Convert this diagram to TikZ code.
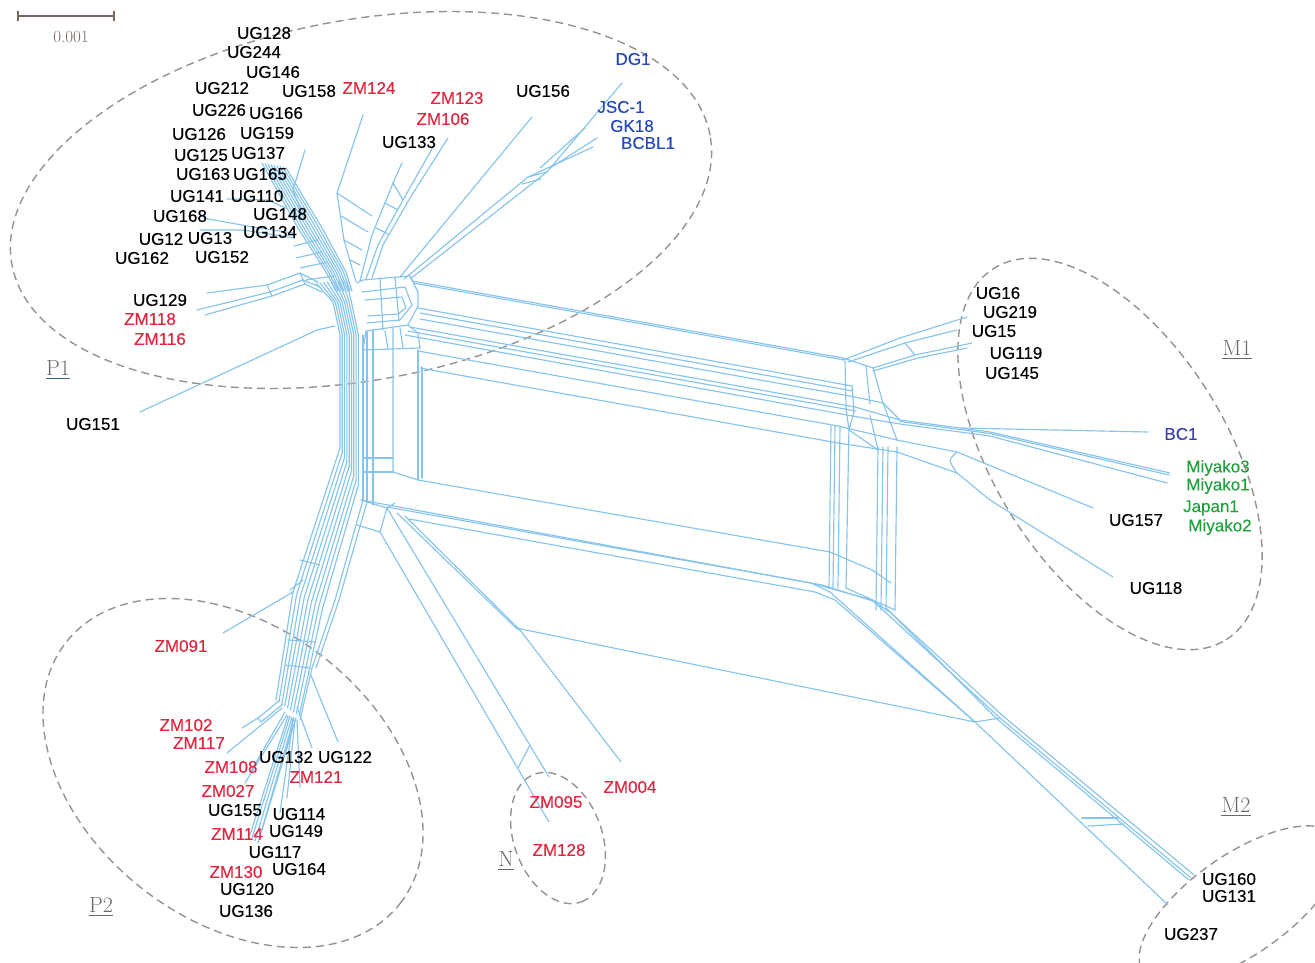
\documentclass[tikz,border=0pt]{standalone}
\usepackage{fontspec}
\newfontfamily\labfont[FakeBold=0.3]{Liberation Sans}
\definecolor{netc}{RGB}{135,196,236}
\definecolor{redc}{RGB}{222,38,62}
\definecolor{bluec}{RGB}{36,72,186}
\definecolor{bluec2}{RGB}{60,62,170}
\definecolor{greenc}{RGB}{34,160,62}
\definecolor{dashc}{RGB}{150,146,144}
\definecolor{scalec}{RGB}{120,106,98}
\definecolor{clc}{RGB}{105,105,105}
\definecolor{ulc}{RGB}{60,100,125}
\tikzset{
  net/.style={draw=netc, line width=1.15pt, line join=round, line cap=round},
  lab/.style={font=\labfont\fontsize{17}{19}\selectfont, inner sep=0pt},
  ug/.style={lab, text=black},
  zm/.style={lab, text=redc},
  kb/.style={lab, text=bluec},
  jp/.style={lab, text=greenc},
  grp/.style={draw=dashc, line width=1.4pt, dash pattern=on 8pt off 5pt},
  cl/.style={font=\fontsize{22}{24}\selectfont, text=clc, inner sep=0pt},
}
\begin{document}
\begin{tikzpicture}[x=1pt,y=-1pt]
\path[use as bounding box] (0,0) rectangle (1315,963);
% ---------- scale bar
\draw[scalec, line width=1.2pt] (18,16) -- (114,16);
\draw[scalec, line width=1.2pt] (18,11) -- (18,21) (114,11) -- (114,21);
\node[font=\fontsize{17}{19}\selectfont, text=scalec, inner sep=0pt] (scale) at (71,37) {0.001};
% ---------- group ellipses
\draw[grp, rotate around={10.5:(361,200)}] (361,200) ellipse [x radius=355pt, y radius=180pt];
\draw[grp, rotate around={-58:(1110,454)}] (1110,454) ellipse [x radius=219pt, y radius=116pt];
\draw[grp, rotate around={-38:(233,773)}] (233,773) ellipse [x radius=212pt, y radius=147pt];
\draw[grp, rotate around={-70:(558,838)}] (558,838) ellipse [x radius=68pt, y radius=44pt];
\draw[grp, rotate around={35:(1240,905)}] (1240,905) ellipse [x radius=118pt, y radius=50pt];
% ---------- network: P1 upper-left bundle
\foreach \k in {0,...,8}{
  \draw[net] ({262+3*\k},{163+0.6*\k}) -- ({298+3*\k},228) -- ({326+2.5*\k},272) -- ({336+2*\k},291);
}
\draw[net] (227,199) -- (268,200) -- (288,209);
\draw[net] (203,218) -- (253,227) -- (293,233);
\draw[net] (200,230) -- (243,230) -- (295,238);
\draw[net] (305,150) -- (293,190) -- (302,214);
\draw[net] (296,258) -- (322,252);
\draw[net] (300,268) -- (328,262);
\draw[net] (306,280) -- (334,276);
\draw[net] (294,246) -- (318,240);
% left leaves UG129 / ZM118 / ZM116
\draw[net] (207,293) -- (267,285) -- (300,273) -- (318,282);
\draw[net] (197,310) -- (270,292) -- (303,280) -- (320,287);
\draw[net] (205,315) -- (272,296) -- (305,284) -- (322,292);
\draw[net] (267,285) -- (272,296);
\draw[net] (300,273) -- (305,284);
% UG151
\draw[net] (140,412) -- (317,330) -- (335,326);
% upper-middle branch
\draw[net] (363,115) -- (337,193) -- (344,240) -- (356,282);
\draw[net] (337,193) -- (372,216);
\draw[net] (341,216) -- (368,232);
\draw[net] (344,240) -- (362,250);
\draw[net] (350,260) -- (360,265);
\draw[net] (402,163) -- (393,183) -- (372,235) -- (360,281);
\draw[net] (433,147) -- (403,200) -- (378,245) -- (366,279);
\draw[net] (448,138) -- (410,198) -- (383,245) -- (372,278);
\draw[net] (393,183) -- (403,200);
\draw[net] (385,203) -- (398,210);
\draw[net] (376,228) -- (388,234);
% UG156 and the KSHV reference leaves
\draw[net] (532,117) -- (400,277);
\draw[net] (622,83) -- (547,172) -- (410,279);
\draw[net] (585,128) -- (540,168);
\draw[net] (597,138) -- (550,168);
\draw[net] (593,147) -- (528,177) -- (404,279);
\draw[net] (528,177) -- (547,172);
\draw[net] (522,184) -- (541,179);
% hub
\draw[net] (357,283) -- (363,280) -- (410,276) -- (418,292) -- (418,306) -- (408,325) -- (366,331);
\draw[net] (362,292) -- (405,287) -- (412,305) -- (400,320) -- (367,323);
\draw[net] (365,300) -- (402,297) -- (406,308) -- (398,314) -- (368,316);
\draw[net] (380,278) -- (383,330);
\draw[net] (395,277) -- (399,321);
\draw[net] (366,331) -- (363,350) -- (420,348);
\draw[net] (408,325) -- (418,333) -- (420,348);
\draw[net] (385,331) -- (388,349);
\draw[net] (400,328) -- (403,348);
% trunk
\foreach \i in {0,...,8}{
  \draw[net] ({316+3.8*\i},{283-0.3*\i}) -- ({333+2.3*\i},302) -- ({340+2.3*\i},335) -- ({340+2.3*\i},{448+4.6*\i});
}
% box left side
\draw[net] (363,335) -- (363,500);
\draw[net] (367,332) -- (367,502);
\draw[net] (373,330) -- (373,505);
\draw[net] (393,328) -- (393,472) -- (418,480);
\draw[net] (418,350) -- (418,480);
\draw[net] (422,367) -- (422,478);
\draw[net] (363,458) -- (393,458);
\draw[net] (363,472) -- (393,472);
\draw[net] (361,500) -- (387,508) -- (380,532) -- (357,525);
\draw[net] (387,508) -- (395,503);
% top band
\draw[net] (412,281) -- (843,358);
\draw[net] (413,283) -- (844,360);
\draw[net] (418,308) -- (852,386);
\draw[net] (420,313) -- (853,391);
\draw[net] (420,319) -- (855,397);
\draw[net] (410,327) -- (855,407);
\draw[net] (408,331) -- (856,411);
\draw[net] (405,335) -- (858,417);
\draw[net] (418,351) -- (838,426);
\draw[net] (420,368) -- (838,443);
% bottom band
\draw[net] (361,500) -- (811,583);
\draw[net] (387,507) -- (822,585);
\draw[net] (409,519) -- (815,592);
\draw[net] (418,480) -- (830,552) -- (872,570) -- (891,583);
% top-right corner
\draw[net] (843,358) -- (873,368) -- (883,403) -- (900,420);
\draw[net] (845,361) -- (846,408);
\draw[net] (852,386) -- (854,412);
\draw[net] (866,366) -- (870,404);
\draw[net] (855,397) -- (883,403);
\draw[net] (855,407) -- (900,420);
\draw[net] (858,417) -- (900,424);
% right group A and B
\foreach \xa/\xb in {831/829,835/833,840/838,849/846}{
  \draw[net] (\xa,426) -- (\xb,588);
}
\foreach \xa/\xb in {878/876,883/881,888/886,897/895}{
  \draw[net] (\xa,447) -- (\xb,610);
}
\draw[net] (838,426) -- (897,440);
\draw[net] (838,443) -- (897,452);
\draw[net] (849,430) -- (878,450);
\draw[net] (811,583) -- (872,600) -- (891,613);
\draw[net] (822,585) -- (876,602);
\draw[net] (846,588) -- (895,610);
\draw[net] (870,415) -- (878,450);
\draw[net] (883,403) -- (897,440);
\draw[net] (846,408) -- (849,430);
\draw[net] (854,412) -- (849,430);
% M1 leaves
\draw[net] (843,360) -- (900,338) -- (967,317);
\draw[net] (848,362) -- (905,343) -- (957,330);
\draw[net] (873,368) -- (915,355) -- (972,343);
\draw[net] (873,371) -- (918,358) -- (967,348);
\draw[net] (905,343) -- (915,355);
\draw[net] (900,420) -- (990,432) -- (1170,473);
\draw[net] (900,421.5) -- (990,433.5) -- (1169,475);
\draw[net] (900,424) -- (990,436) -- (1167,483);
\draw[net] (962,428) -- (1148,432);
\draw[net] (897,440) -- (957,452) -- (1093,508);
\draw[net] (897,452) -- (957,473) -- (990,500) -- (1113,577);
\draw[net] (957,452) .. controls (948,460) .. (957,473);
% M2 branch
\draw[net] (811,583) -- (830,592) -- (975,722) -- (1168,905);
\draw[net] (815,592) -- (835,600) -- (975,722);
\draw[net] (872,600) -- (1000,718) -- (1191,878);
\draw[net] (891,613) -- (1003,716) -- (1194,875);
\draw[net] (886,608) -- (997,719) -- (1189,880);
\draw[net] (975,722) -- (1000,718);
\draw[net] (1082,818) -- (1118,818);
\draw[net] (1088,826) -- (1124,824);
% N branch
\draw[net] (380,532) -- (549,822);
\draw[net] (387,508) -- (549,777);
\draw[net] (530,745) -- (518,768);
\draw[net] (397,513) -- (516,628) -- (975,722);
\draw[net] (405,516) -- (520,630) -- (621,762);
\draw[net] (516,628) -- (520,630);
% P2 bundle
\foreach \i in {0,...,8}{
  \draw[net] ({340+2.3*\i},{448+4.6*\i}) -- ({293+3.7*\i},{592+2*\i}) -- ({276+2.9*\i},{700+2*\i});
}
\draw[net] (363,500) -- (335,600) -- (312,668) -- (300,720);
\draw[net] (367,502) -- (339,600) -- (316,668);
\draw[net] (293,592) -- (223,633);
\draw[net] (290,590) -- (303,580);
\draw[net] (300,560) -- (320,565);
\draw[net] (288,640) -- (315,642);
\draw[net] (285,665) -- (310,668);
% P2 leaves
\draw[net] (280,700) -- (258,718) -- (242,728);
\draw[net] (283,704) -- (261,722);
\draw[net] (258,718) -- (261,722);
\draw[net] (282,708) -- (227,753);
\draw[net] (285,712) -- (250,773);
\draw[net] (287,715) -- (245,783);
\draw[net] (288,716) -- (250,835);
\draw[net] (290,716) -- (252,838);
\draw[net] (292,717) -- (255,841);
\draw[net] (294,718) -- (258,843);
\draw[net] (296,718) -- (262,830);
\draw[net] (293,718) -- (286,752);
\draw[net] (297,720) -- (300,787);
\draw[net] (295,720) -- (287,798);
\draw[net] (293,720) -- (280,813);
\draw[net] (310,673) -- (338,742);
\draw[net] (297,707) -- (312,748);
% ---------- labels P1
\node[ug] (UG128) at (264,33) {UG128};
\node[ug] (UG244) at (254,52) {UG244};
\node[ug] (UG146) at (273,72) {UG146};
\node[ug] (UG212) at (222,88) {UG212};
\node[ug] (UG158) at (309,91) {UG158};
\node[zm] (ZM124) at (369,88) {ZM124};
\node[ug] (UG226) at (219,110) {UG226};
\node[ug] (UG166) at (276,113) {UG166};
\node[ug] (UG126) at (199,134) {UG126};
\node[ug] (UG159) at (267,133) {UG159};
\node[ug] (UG125) at (201,155) {UG125};
\node[ug] (UG137) at (258,153) {UG137};
\node[ug] (UG163) at (203,174) {UG163};
\node[ug] (UG165) at (260,174) {UG165};
\node[ug] (UG141) at (197,196) {UG141};
\node[ug] (UG110) at (257,196) {UG110};
\node[ug] (UG168) at (180,216) {UG168};
\node[ug] (UG148) at (280,214) {UG148};
\node[ug] (UG12) at (161,239) {UG12};
\node[ug] (UG13) at (210,238) {UG13};
\node[ug] (UG134) at (270,232) {UG134};
\node[ug] (UG162) at (142,258) {UG162};
\node[ug] (UG152) at (222,257) {UG152};
\node[ug] (UG129) at (160,300) {UG129};
\node[zm] (ZM118) at (150,319) {ZM118};
\node[zm] (ZM116) at (160,339) {ZM116};
\node[ug] (UG151) at (93,424) {UG151};
\node[zm] (ZM123) at (457,98) {ZM123};
\node[zm] (ZM106) at (443,119) {ZM106};
\node[ug] (UG133) at (409,142) {UG133};
\node[ug] (UG156) at (543,91) {UG156};
\node[kb] (DG1) at (633,59) {DG1};
\node[kb] (JSC1) at (621,107) {JSC-1};
\node[kb] (GK18) at (632,126) {GK18};
\node[kb] (BCBL1) at (648,143) {BCBL1};
% labels M1
\node[ug] (UG16) at (998,293) {UG16};
\node[ug] (UG219) at (1010,312) {UG219};
\node[ug] (UG15) at (994,331) {UG15};
\node[ug] (UG119) at (1016,353) {UG119};
\node[ug] (UG145) at (1012,373) {UG145};
\node[lab, text=bluec2] (BC1) at (1181,434) {BC1};
\node[jp] (Miyako3) at (1218,468) {Miyako3};
\node[jp] (Miyako1) at (1218,486) {Miyako1};
\node[jp] (Japan1) at (1211,508) {Japan1};
\node[jp] (Miyako2) at (1220,527) {Miyako2};
\node[ug] (UG157) at (1136,520) {UG157};
\node[ug] (UG118) at (1156,588) {UG118};
% labels P2
\node[zm] (ZM091) at (181,646) {ZM091};
\node[zm] (ZM102) at (186,725) {ZM102};
\node[zm] (ZM117) at (199,743) {ZM117};
\node[ug] (UG132) at (286,757) {UG132};
\node[ug] (UG122) at (345,757) {UG122};
\node[zm] (ZM108) at (231,767) {ZM108};
\node[zm] (ZM121) at (316,777) {ZM121};
\node[zm] (ZM027) at (228,791) {ZM027};
\node[ug] (UG155) at (235,810) {UG155};
\node[ug] (UG114) at (299,814) {UG114};
\node[zm] (ZM114) at (237,834) {ZM114};
\node[ug] (UG149) at (296,831) {UG149};
\node[ug] (UG117) at (275,852) {UG117};
\node[zm] (ZM130) at (236,872) {ZM130};
\node[ug] (UG164) at (299,869) {UG164};
\node[ug] (UG120) at (247,889) {UG120};
\node[ug] (UG136) at (246,911) {UG136};
% labels N and M2
\node[zm] (ZM095) at (556,802) {ZM095};
\node[zm] (ZM004) at (630,787) {ZM004};
\node[zm] (ZM128) at (559,850) {ZM128};
\node[ug] (UG160) at (1229,879) {UG160};
\node[ug] (UG131) at (1229,896) {UG131};
\node[ug] (UG237) at (1191,934) {UG237};
% group names
\node[cl] (P1) at (58,368) {P1};
\draw[ulc, line width=1pt] ([yshift=-3pt]P1.south west) -- ([yshift=-3pt]P1.south east);
\node[cl] (M1) at (1237,348) {M1};
\draw[clc, line width=1pt] ([yshift=-3pt]M1.south west) -- ([yshift=-3pt]M1.south east);
\node[cl] (P2) at (101,905) {P2};
\draw[clc, line width=1pt] ([yshift=-3pt]P2.south west) -- ([yshift=-3pt]P2.south east);
\node[cl] (N) at (506,859) {N};
\draw[clc, line width=1pt] ([yshift=-3pt]N.south west) -- ([yshift=-3pt]N.south east);
\node[cl] (M2) at (1236,805) {M2};
\draw[clc, line width=1pt] ([yshift=-3pt]M2.south west) -- ([yshift=-3pt]M2.south east);
\end{tikzpicture}
\end{document}
